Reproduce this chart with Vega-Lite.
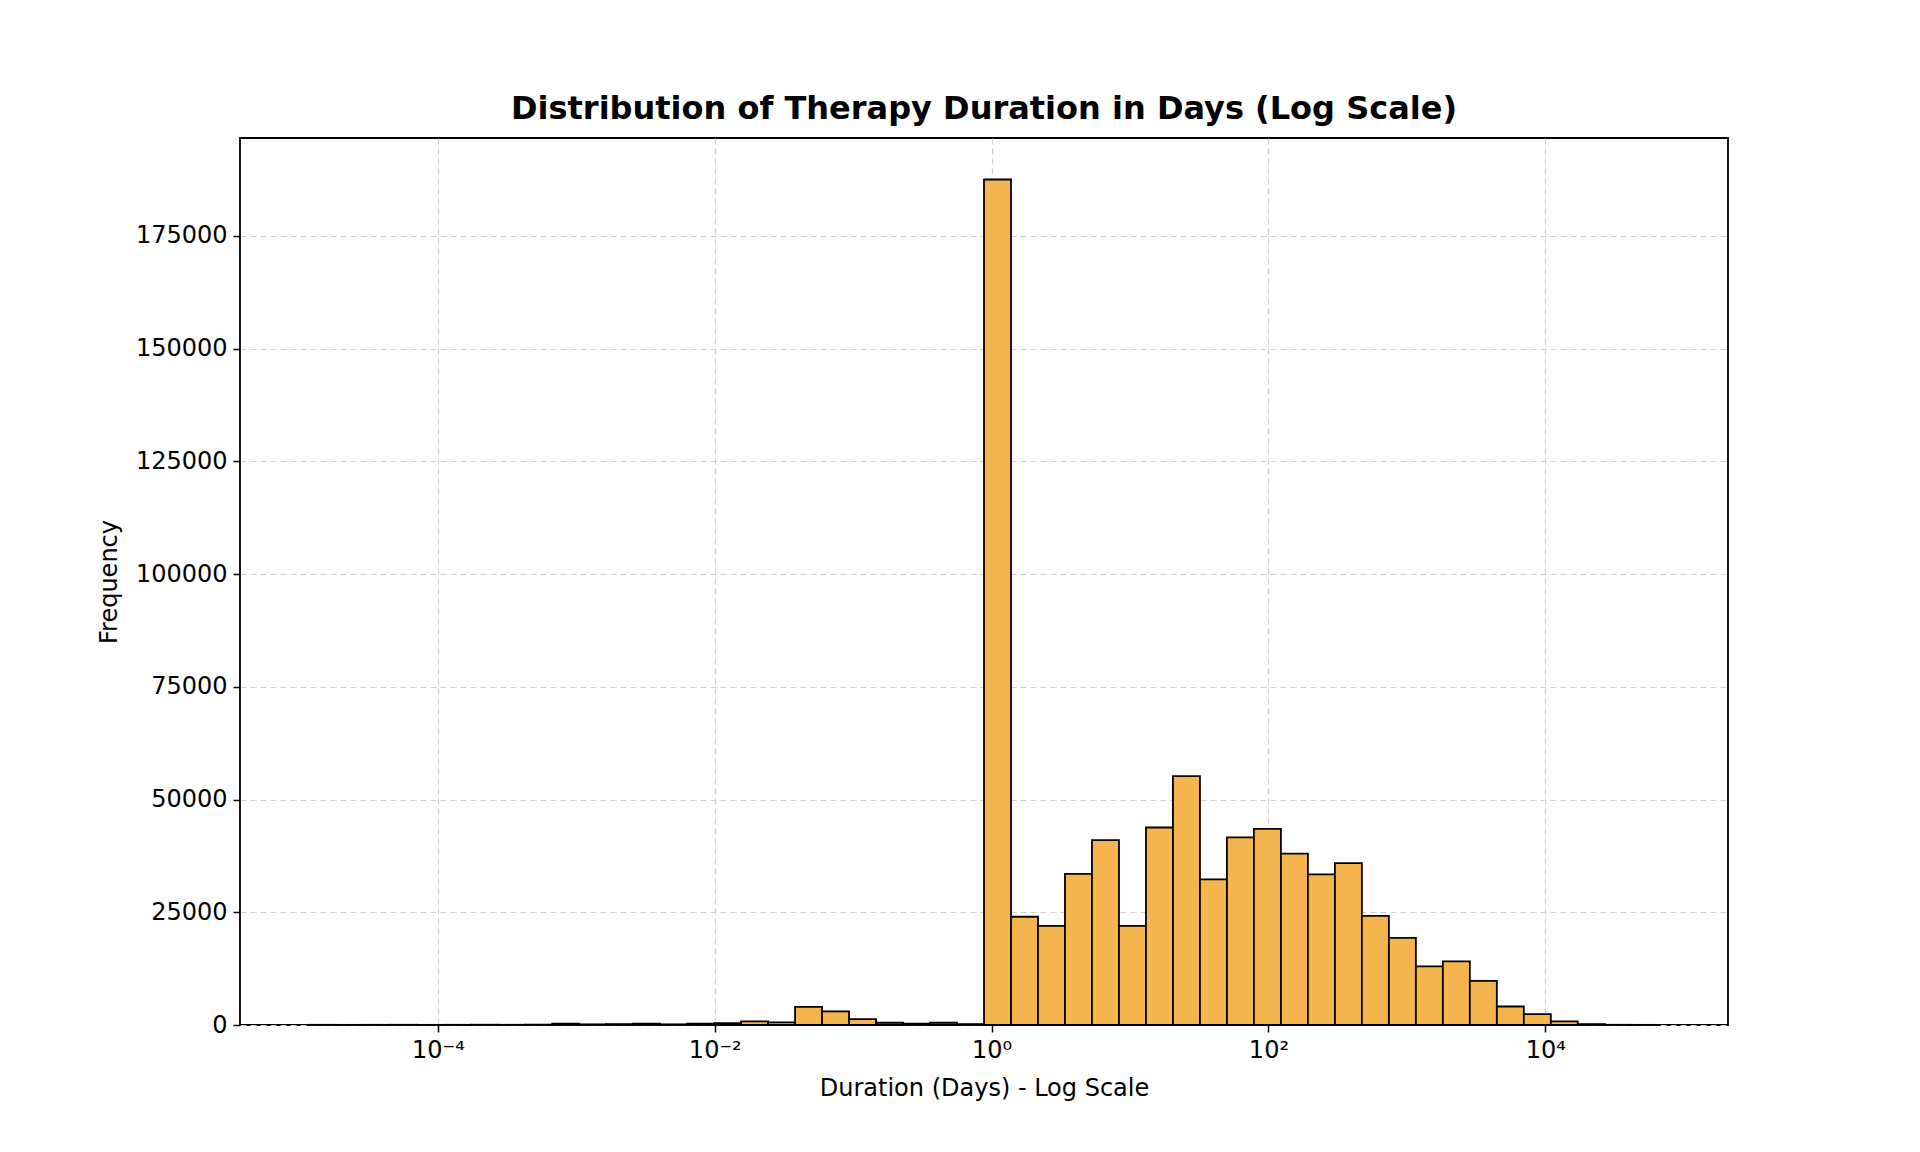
{
  "$schema": "https://vega.github.io/schema/vega-lite/v6.json",
  "width": 1488,
  "height": 887,
  "autosize": {"type": "none"},
  "padding": {"left": 240, "top": 138, "right": 192, "bottom": 127},
  "background": "white",
  "title": {"text": "Distribution of Therapy Duration in Days (Log Scale)", "font": "DejaVu Sans", "fontSize": 32, "fontWeight": "bold", "color": "black", "offset": 12},
  "data": {"values": [
    {"lo": -4.93, "hi": -4.735, "n": 40},
    {"lo": -4.735, "hi": -4.54, "n": 30},
    {"lo": -4.54, "hi": -4.345, "n": 40},
    {"lo": -4.345, "hi": -4.15, "n": 50},
    {"lo": -4.15, "hi": -3.955, "n": 30},
    {"lo": -3.955, "hi": -3.76, "n": 40},
    {"lo": -3.76, "hi": -3.565, "n": 60},
    {"lo": -3.565, "hi": -3.37, "n": 50},
    {"lo": -3.37, "hi": -3.175, "n": 80},
    {"lo": -3.175, "hi": -2.98, "n": 300},
    {"lo": -2.98, "hi": -2.785, "n": 150},
    {"lo": -2.785, "hi": -2.59, "n": 200},
    {"lo": -2.59, "hi": -2.395, "n": 300},
    {"lo": -2.395, "hi": -2.2, "n": 150},
    {"lo": -2.2, "hi": -2.005, "n": 300},
    {"lo": -2.005, "hi": -1.81, "n": 400},
    {"lo": -1.81, "hi": -1.615, "n": 800},
    {"lo": -1.615, "hi": -1.42, "n": 600},
    {"lo": -1.42, "hi": -1.225, "n": 4000},
    {"lo": -1.225, "hi": -1.03, "n": 3000},
    {"lo": -1.03, "hi": -0.835, "n": 1300},
    {"lo": -0.835, "hi": -0.64, "n": 500},
    {"lo": -0.64, "hi": -0.445, "n": 300},
    {"lo": -0.445, "hi": -0.25, "n": 500},
    {"lo": -0.25, "hi": -0.055, "n": 200},
    {"lo": -0.055, "hi": 0.14, "n": 187500},
    {"lo": 0.14, "hi": 0.335, "n": 24000},
    {"lo": 0.335, "hi": 0.53, "n": 22000},
    {"lo": 0.53, "hi": 0.725, "n": 33500},
    {"lo": 0.725, "hi": 0.92, "n": 41000},
    {"lo": 0.92, "hi": 1.115, "n": 22000},
    {"lo": 1.115, "hi": 1.31, "n": 43800},
    {"lo": 1.31, "hi": 1.505, "n": 55200},
    {"lo": 1.505, "hi": 1.7, "n": 32300},
    {"lo": 1.7, "hi": 1.895, "n": 41600},
    {"lo": 1.895, "hi": 2.09, "n": 43500},
    {"lo": 2.09, "hi": 2.285, "n": 38000},
    {"lo": 2.285, "hi": 2.48, "n": 33400},
    {"lo": 2.48, "hi": 2.675, "n": 35900},
    {"lo": 2.675, "hi": 2.87, "n": 24200},
    {"lo": 2.87, "hi": 3.065, "n": 19300},
    {"lo": 3.065, "hi": 3.26, "n": 13000},
    {"lo": 3.26, "hi": 3.455, "n": 14100},
    {"lo": 3.455, "hi": 3.65, "n": 9800},
    {"lo": 3.65, "hi": 3.845, "n": 4100},
    {"lo": 3.845, "hi": 4.04, "n": 2400},
    {"lo": 4.04, "hi": 4.235, "n": 800},
    {"lo": 4.235, "hi": 4.43, "n": 200},
    {"lo": 4.43, "hi": 4.625, "n": 50},
    {"lo": 4.625, "hi": 4.82, "n": 30}
  ]},
  "mark": {"type": "rect", "fill": "#F5B54E", "stroke": "black", "strokeWidth": 1.8},
  "encoding": {
    "x": {
      "field": "lo", "type": "quantitative",
      "scale": {"domain": [-5.43, 5.32], "nice": false, "zero": false},
      "axis": {"values": [-4, -2, 0, 2, 4], "title": "Duration (Days) - Log Scale",
        "labelExpr": "datum.value == -4 ? '10⁻⁴' : datum.value == -2 ? '10⁻²' : datum.value == 0 ? '10⁰' : datum.value == 2 ? '10²' : '10⁴'"}
    },
    "x2": {"field": "hi"},
    "y": {
      "field": "n", "type": "quantitative",
      "scale": {"domain": [0, 196700], "nice": false},
      "axis": {"values": [0, 25000, 50000, 75000, 100000, 125000, 150000, 175000], "format": "d", "title": "Frequency"}
    }
  },
  "config": {
    "view": {"stroke": "black", "strokeWidth": 1.8},
    "font": "DejaVu Sans",
    "axis": {
      "grid": true, "gridColor": "#d0d0d0", "gridDash": [6, 4], "gridWidth": 1.2,
      "domain": false, "tickColor": "black", "tickSize": 7, "tickWidth": 1.5,
      "labelFont": "DejaVu Sans", "labelFontSize": 24, "labelColor": "black", "labelPadding": 6,
      "titleFont": "DejaVu Sans", "titleFontSize": 24, "titleFontWeight": "normal", "titleColor": "black", "titlePadding": 14
    }
  }
}
